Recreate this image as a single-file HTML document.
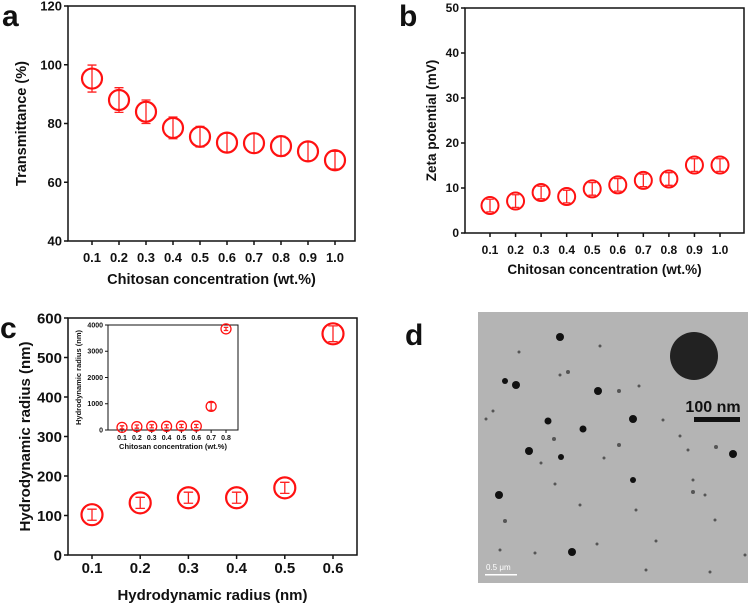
<!DOCTYPE html>
<html><head><meta charset="utf-8"><style>
body{margin:0;background:#fff;width:750px;height:603px;overflow:hidden}
svg{font-family:"Liberation Sans",Arial,sans-serif;font-weight:bold}
</style></head><body>
<svg id="fig" width="750" height="603" viewBox="0 0 750 603" xmlns="http://www.w3.org/2000/svg">
<g id="pa"></g>
<g id="pb"></g>
<g id="pc"></g>
<g id="pi"></g>
<g id="pd"></g>
</svg>
<script>
const catsA = ["0.1","0.2","0.3","0.4","0.5","0.6","0.7","0.8","0.9","1.0"];
const valsA = [95.3,88,84,78.5,75.5,73.5,73.3,72.3,70.5,67.5];
const errA = [4.6,4.2,4,3.7,3.5,3.2,3.3,3.4,3.2,3];
const ticksA = [40,60,80,100,120];
const catsB = ["0.1","0.2","0.3","0.4","0.5","0.6","0.7","0.8","0.9","1.0"];
const valsB = [6.1,7.1,9.0,8.1,9.8,10.7,11.7,12.0,15.1,15.1];
const errB = [1.4,1.4,1.4,1.4,1.4,1.4,1.4,1.4,1.4,1.4];
const ticksB = [0,10,20,30,40,50];
const catsC = ["0.1","0.2","0.3","0.4","0.5","0.6"];
const valsC = [102,132,145,145,170,560];
const errC = [14,14,14,14,14,20];
const ticksC = [0,100,200,300,400,500,600];
const catsI = ["0.1","0.2","0.3","0.4","0.5","0.6","0.7","0.8"];
const valsI = [100,130,140,140,150,150,900,3850];
const errI = [60,60,60,60,60,60,150,60];
const ticksI = [0,1000,2000,3000,4000];

const NS="http://www.w3.org/2000/svg";
function mk(parent,tag,attrs,text){const e=document.createElementNS(NS,tag);for(const k in attrs)e.setAttribute(k,attrs[k]);if(text!==undefined)e.textContent=text;parent.appendChild(e);return e;}

function chart(gid,o){
  const g=document.getElementById(gid);
  const yS=v=>o.b-(v-o.ymin)/(o.ymax-o.ymin)*(o.b-o.yt);
  const xS=i=>o.x0+i*(o.x1-o.x0)/(o.cats.length-1);
  const box=mk(g,'rect',{x:o.l,y:o.yt,width:o.r-o.l,height:o.b-o.yt,fill:'none',stroke:'#111','stroke-width':o.sw});
  
  
  o.ticks.forEach(t=>{
    const y=yS(t);
    const tl=mk(g,'line',{x1:o.l-o.tk,x2:o.l,y1:y,y2:y,stroke:'#111','stroke-width':o.sw});
    
    
    const tx=mk(g,'text',{x:o.l-o.tk-2,y:y+o.fs*0.35,'text-anchor':'end','font-size':o.fs,fill:'#111'},t);
    
    
  });
  o.cats.forEach((c,i)=>{
    const x=xS(i);
    const tl=mk(g,'line',{x1:x,x2:x,y1:o.b,y2:o.b+o.tk,stroke:'#111','stroke-width':o.sw});
    
    
    const tx=mk(g,'text',{x:x,y:o.xly,'text-anchor':'middle','font-size':o.fs,fill:'#111'},c);
    
    
    const v=o.vals[i],e=o.errs[i],cy=yS(v),yt=yS(v+e),yb=yS(v-e),cw=o.r0*0.45;
    const eb=mk(g,'path',{d:`M${x},${yt}V${yb}M${x-cw},${yt}H${x+cw}M${x-cw},${yb}H${x+cw}`,stroke:'#f22',fill:'none','stroke-width':1.3});
    
    
    const ci=mk(g,'circle',{cx:x,cy:cy,r:o.r0,fill:'none',stroke:'#f11','stroke-width':o.cw});
    
    
  });
  const xt=mk(g,'text',{x:(o.l+o.r)/2,y:o.xty,'text-anchor':'middle','font-size':o.tfs,fill:'#111'},o.xt);
  
  
  const yt=mk(g,'text',{x:0,y:0,transform:`translate(${o.ytx},${(o.yt+o.b)/2}) rotate(-90)`,'text-anchor':'middle','font-size':o.tfs,fill:'#111'},o.ytl);
  
  
  if(o.letter){
    const lt=mk(g,'text',{x:o.letter[0],y:o.letter[1],'font-size':30,fill:'#111'},o.letter[2]);
    
    
  }
}
chart('pa',{cats:catsA,vals:valsA,errs:errA,ticks:ticksA,ymin:40,ymax:120,l:68,r:355,yt:6,b:241,x0:92,x1:335,sw:1.5,tk:4,fs:13,tfs:14.5,r0:10,cw:2.2,xly:262,xty:284,ytx:26,xt:"Chitosan concentration (wt.%)",ytl:"Transmittance (%)",letter:[2,26,"a"]});
chart('pb',{cats:catsB,vals:valsB,errs:errB,ticks:ticksB,ymin:0,ymax:50,l:465,r:744,yt:8,b:233,x0:490,x1:720,sw:1.5,tk:4,fs:12,tfs:13.5,r0:8.5,cw:2,xly:254,xty:274,ytx:436,xt:"Chitosan concentration (wt.%)",ytl:"Zeta potential (mV)",letter:[399,26,"b"]});
chart('pc',{cats:catsC,vals:valsC,errs:errC,ticks:ticksC,ymin:0,ymax:600,l:68,r:357,yt:318,b:555,x0:92,x1:333,sw:1.5,tk:4,fs:15,tfs:15,r0:10.5,cw:2.2,xly:573,xty:600,ytx:30,xt:"Hydrodynamic radius (nm)",ytl:"Hydrodynamic radius (nm)",letter:[0,338,"c"]});
chart('pi',{cats:catsI,vals:valsI,errs:errI,ticks:ticksI,ymin:0,ymax:4000,l:108,r:238,yt:325,b:430,x0:122,x1:226,sw:1,tk:3,fs:7,tfs:7.5,r0:5,cw:1.3,xly:440,xty:449,ytx:81,xt:"Chitosan concentration (wt.%)",ytl:"Hydrodynamic radius (nm)"});
const pd=document.getElementById('pd');
const dl=mk(pd,'text',{x:405,y:345,'font-size':30,fill:'#111'},'d');


const img=mk(pd,'rect',{x:478,y:312,width:270,height:271,fill:'#b4b4b4'});


const parts=[[694,356,24,'#222'],[560,337,4],[505,381,3],[516,385,4],[598,391,4],[619,391,2],[548,421,3.5],[583,429,3.5],[633,419,4],[529,451,4],[561,457,3],[733,454,4],[716,447,2],[633,480,3],[499,495,4],[505,521,2],[572,552,4],[554,439,2],[568,372,2],[619,445,2],[639,386,1.5],[560,375,1.5],[493,411,1.5],[486,419,1.5],[541,463,1.5],[555,484,1.5],[604,458,1.5],[663,420,1.5],[680,436,1.5],[693,480,1.5],[715,520,1.5],[656,541,1.5],[636,510,1.5],[597,544,1.5],[535,553,1.5],[500,550,1.5],[693,492,2],[745,555,1.5],[710,572,1.5],[646,570,1.5],[580,505,1.5],[519,352,1.5],[600,346,1.5],[688,450,1.5],[705,495,1.5]];
parts.forEach(p=>{
  const c=mk(pd,'circle',{cx:p[0],cy:p[1],r:p[2],fill:p[3]||(p[2]>=3?'#111':'#555')});
  
  
});
const sbt=mk(pd,'text',{x:713,y:412,'text-anchor':'middle','font-size':16,fill:'#111'},'100 nm');


const sb=mk(pd,'rect',{x:694,y:417,width:46,height:5,fill:'#111'});


const sb2=mk(pd,'text',{x:486,y:570,'font-size':8,fill:'#fff','font-weight':'normal'},'0.5 μm');


const sb3=mk(pd,'rect',{x:485,y:574,width:32,height:1.5,fill:'#fff'});


</script>
</body></html>
